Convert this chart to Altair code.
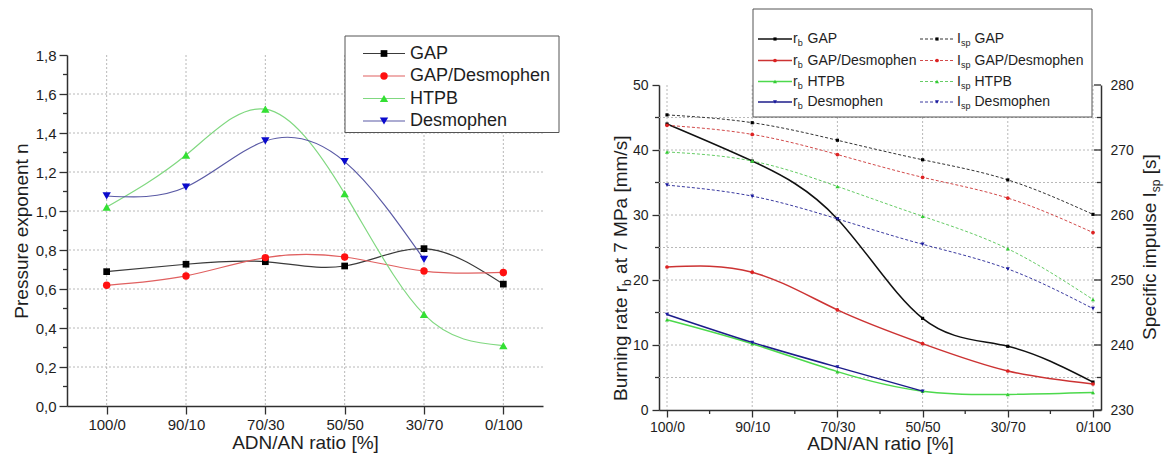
import json
import altair as alt
import pandas as pd

# ---------------- data ----------------
categories = ["100/0", "90/10", "70/30", "50/50", "30/70", "0/100"]
series = ["GAP", "GAP/Desmophen", "HTPB", "Desmophen"]

# left chart: pressure exponent n
n_gap = [0.689, 0.727, 0.740, 0.718, 0.807, 0.625]
n_gap_des = [0.619, 0.667, 0.761, 0.764, 0.692, 0.685]
n_htpb = [1.020, 1.287, 1.522, 1.089, 0.470, 0.310]
n_des = [1.077, 1.123, 1.359, 1.253, 0.752]

# right chart: burning rate at 7 MPa [mm/s]
rb_gap = [44.0, 38.3, 29.4, 14.1, 9.8, 4.3]
rb_gap_des = [22.0, 21.2, 15.4, 10.2, 6.0, 4.0]
rb_htpb = [13.9, 10.2, 5.9, 2.9, 2.4, 2.7]
rb_des = [14.7, 10.4, 6.6, 2.9]

# right chart: specific impulse [s]
isp_gap = [275.4, 274.2, 271.5, 268.5, 265.4, 260.1]
isp_gap_des = [273.8, 272.4, 269.3, 265.8, 262.6, 257.3]
isp_htpb = [269.7, 268.3, 264.4, 259.8, 254.8, 247.0]
isp_des = [264.6, 262.9, 259.4, 255.5, 251.7, 245.6]

n_ticks = [0.0, 0.2, 0.4, 0.6, 0.8, 1.0, 1.2, 1.4, 1.6, 1.8]
rb_ticks = [0, 10, 20, 30, 40, 50]
isp_ticks = [230, 240, 250, 260, 270, 280]

n_data = [n_gap, n_gap_des, n_htpb, n_des]
rb_data = [rb_gap, rb_gap_des, rb_htpb, rb_des]
isp_data = [isp_gap, isp_gap_des, isp_htpb, isp_des]

# ---------------- style ----------------
FONT = "Liberation Sans"
TXT = "#1e1e1e"
AX = "#303030"
GRID = "#b8b8b8"
shapes = ["square", "circle", "triangle-up", "triangle-down"]

l_marker = ["#000000", "#ff1010", "#33e033", "#0a0acc"]
l_line = ["#3a3a3a", "#e06060", "#80d880", "#5a5aa5"]
l_size = [45, 55, 70, 70]

r_marker = ["#000000", "#dd2222", "#33cc33", "#1a1aa0"]
r_line = ["#111111", "#cc3333", "#4cd94c", "#1c1c8a"]
i_line = ["#333333", "#d24a4a", "#66cc66", "#3a3aa0"]
r_size = [10, 14, 16, 16]

idx = list(range(len(categories)))
label_expr = json.dumps(categories) + "[round(datum.value)]"
one = pd.DataFrame({"d": [0]})


def series_df(vals):
    return pd.DataFrame({"i": idx[:len(vals)], "val": vals})


def text_mark(txt, x, y, size, angle=0, baseline="middle"):
    kw = dict(text=txt, fontSize=size, font=FONT, color=TXT, align="left",
              baseline=baseline)
    if angle:
        kw["angle"] = angle
    return alt.Chart(one).mark_text(**kw).encode(x=alt.value(x), y=alt.value(y))


def box(x1, x2, y1, y2):
    return alt.Chart(one).mark_rect(fill="white", stroke="#555555", strokeWidth=1).encode(
        x=alt.value(x1), x2=alt.value(x2), y=alt.value(y1), y2=alt.value(y2))


def seg(x1, x2, y, color, width, dash=None):
    kw = dict(color=color, strokeWidth=width)
    if dash:
        kw["strokeDash"] = dash
    return alt.Chart(one).mark_rule(**kw).encode(
        x=alt.value(x1), x2=alt.value(x2), y=alt.value(y))


def dot(x, y, shape, color, size):
    return alt.Chart(one).mark_point(shape=shape, filled=True, color=color, size=size,
                                     opacity=1).encode(x=alt.value(x), y=alt.value(y))


axis_common = dict(labelFont=FONT, titleFont=FONT, labelColor=TXT, titleColor=TXT,
                   titleFontWeight="normal", domainColor=AX, domainWidth=1.5,
                   tickColor=AX, tickWidth=1.3, grid=False)

# ---------------- left chart ----------------
LW, LH = 476, 351
lx_scale = alt.Scale(domain=[-0.5, 5.5], nice=False, zero=False)
ly_scale = alt.Scale(domain=[0, 1.8], nice=False, zero=False)

lx_axis = alt.Axis(values=idx, labelExpr=label_expr, title="ADN/AN ratio [%]",
                   labelFontSize=15, titleFontSize=19, tickSize=8, labelPadding=3,
                   titlePadding=1, **axis_common)
ly_axis = alt.Axis(values=n_ticks, labelExpr="replace(format(datum.value, '.1f'), '.', ',')",
                   title="Pressure exponent n", labelFontSize=15, titleFontSize=19,
                   tickSize=8, labelPadding=3, titlePadding=4, **axis_common)

LX = lambda f: alt.X(f, scale=lx_scale, axis=lx_axis)
LY = lambda f: alt.Y(f, scale=ly_scale, axis=ly_axis)

left_layers = []
for k in range(4):
    d = series_df(n_data[k])
    left_layers.append(alt.Chart(d).mark_line(
        interpolate="natural", color=l_line[k], strokeWidth=1.2).encode(
        x=LX("i:Q"), y=LY("val:Q")))
left_layers.insert(0, alt.Chart(pd.DataFrame({"i": idx})).mark_rule(
    color=GRID, strokeDash=[2, 2], strokeWidth=1).encode(x=LX("i:Q")))
left_layers.insert(1, alt.Chart(pd.DataFrame({"val": n_ticks[1:-1]})).mark_rule(
    color=GRID, strokeDash=[2, 2], strokeWidth=1).encode(y=LY("val:Q")))
left_layers.append(alt.Chart(pd.DataFrame({"val": [t + 0.1 for t in n_ticks[:-1]]})).mark_rule(
    color=AX, strokeWidth=1.3).encode(y=LY("val:Q"), x=alt.value(-4), x2=alt.value(0)))
for k in range(4):
    d = series_df(n_data[k])
    left_layers.append(alt.Chart(d).mark_point(
        shape=shapes[k], filled=True, color=l_marker[k], size=l_size[k], opacity=1).encode(
        x=LX("i:Q"), y=LY("val:Q")))

# left legend
left_layers.append(box(278, 492, -19, 77.5))
leg_rows = [-1.5, 21.0, 43.5, 66.0]
for k in range(4):
    yy = leg_rows[k]
    left_layers.append(seg(296, 338, yy, l_line[k], 1.2))
    left_layers.append(dot(317, yy, shapes[k], l_marker[k], l_size[k]))
    left_layers.append(text_mark(series[k], 343, yy, 18))

left = alt.layer(*left_layers).properties(width=LW, height=LH)

# ---------------- right chart ----------------
RW, RH = 442, 325
rx_scale = alt.Scale(domain=[-0.094, 5.094], nice=False, zero=False)
rb_scale = alt.Scale(domain=[0, 50], nice=False, zero=False)
isp_scale = alt.Scale(domain=[230, 280], nice=False, zero=False)

rx_axis = alt.Axis(values=idx, labelExpr=label_expr, title="ADN/AN ratio [%]",
                   labelFontSize=14, titleFontSize=19, tickSize=7, labelPadding=3,
                   titlePadding=0, **axis_common)
rb_axis = alt.Axis(values=rb_ticks, title=None, labelFontSize=14, tickSize=7,
                   labelPadding=4, orient="left", **axis_common)
isp_axis = alt.Axis(values=isp_ticks, title=None, labelFontSize=14, ticks=False,
                    labelPadding=9, orient="right", **axis_common)

RX = lambda f: alt.X(f, scale=rx_scale, axis=rx_axis)
RB = lambda f: alt.Y(f, scale=rb_scale, axis=rb_axis)
RI = lambda f: alt.Y(f, scale=isp_scale, axis=isp_axis)

rb_layers = []
for k in range(4):
    d = series_df(rb_data[k])
    rb_layers.append(alt.Chart(d).mark_line(
        interpolate="natural", color=r_line[k], strokeWidth=1.5).encode(
        x=RX("i:Q"), y=RB("val:Q")))
    rb_layers.append(alt.Chart(d).mark_point(
        shape=shapes[k], filled=True, color=r_marker[k], size=r_size[k], opacity=1).encode(
        x=RX("i:Q"), y=RB("val:Q")))
grid_layers = [
    alt.Chart(pd.DataFrame({"i": idx})).mark_rule(
        color=GRID, strokeDash=[2, 2], strokeWidth=1).encode(x=RX("i:Q")),
    alt.Chart(pd.DataFrame({"val": list(range(5, 50, 5))})).mark_rule(
        color=GRID, strokeDash=[2, 2], strokeWidth=1).encode(y=RB("val:Q")),
    alt.Chart(pd.DataFrame({"val": list(range(5, 50, 10))})).mark_rule(
        color=AX, strokeWidth=1.3).encode(y=RB("val:Q"), x=alt.value(-4), x2=alt.value(0)),
    alt.Chart(pd.DataFrame({"i": [k + 0.5 for k in idx[:-1]]})).mark_rule(
        color=AX, strokeWidth=1.3).encode(x=RX("i:Q"), y=alt.value(RH), y2=alt.value(RH + 4)),
]
rb_group = alt.layer(*(grid_layers + rb_layers))

isp_layers = []
for k in range(4):
    d = series_df(isp_data[k])
    isp_layers.append(alt.Chart(d).mark_line(
        interpolate="natural", color=i_line[k], strokeWidth=1, strokeDash=[3, 2]).encode(
        x=RX("i:Q"), y=RI("val:Q")))
    isp_layers.append(alt.Chart(d).mark_point(
        shape=shapes[k], filled=True, color=r_marker[k], size=r_size[k], opacity=1).encode(
        x=RX("i:Q"), y=RI("val:Q")))
isp_layers.append(alt.Chart(pd.DataFrame({"val": isp_ticks})).mark_rule(
    color=AX, strokeWidth=1.3).encode(y=RI("val:Q"), x=alt.value(RW - 7), x2=alt.value(RW)))
isp_layers.append(alt.Chart(pd.DataFrame({"val": [t + 5 for t in isp_ticks[:-1]]})).mark_rule(
    color=AX, strokeWidth=1.3).encode(y=RI("val:Q"), x=alt.value(RW - 4), x2=alt.value(RW)))
isp_group = alt.layer(*isp_layers)

extra = []
# axis titles with subscripts (rotated, reading bottom to top)
BX = -32
extra.append(text_mark("Burning rate r", BX, 316, 19, angle=270, baseline="alphabetic"))
extra.append(text_mark("b", BX + 4, 200.9, 12, angle=270, baseline="alphabetic"))
extra.append(text_mark("at 7 MPa [mm/s]", BX, 188.9, 19, angle=270, baseline="alphabetic"))
SX = 497
extra.append(text_mark("Specific impulse I", SX, 255, 19, angle=270, baseline="alphabetic"))
extra.append(text_mark("sp", SX + 4, 107.2, 12, angle=270, baseline="alphabetic"))
extra.append(text_mark("[s]", SX, 89.2, 19, angle=270, baseline="alphabetic"))

# right legend
extra.append(box(94, 433, -76, 32))
r_rows = [-46, -24.5, -3.5, 17]
for k in range(4):
    yy = r_rows[k]
    extra.append(seg(99, 133, yy, r_line[k], 1.5))
    extra.append(dot(116, yy, shapes[k], r_marker[k], r_size[k]))
    extra.append(text_mark("r", 134, yy, 14))
    extra.append(text_mark("b", 138.8, yy + 4, 9))
    extra.append(text_mark(series[k], 148.5, yy, 14))
    extra.append(seg(261, 294, yy, i_line[k], 1, dash=[3, 2]))
    extra.append(dot(278, yy, shapes[k], r_marker[k], r_size[k]))
    extra.append(text_mark("I", 298, yy, 14))
    extra.append(text_mark("sp", 302, yy + 4, 9))
    extra.append(text_mark(series[k], 315.5, yy, 14))

right = alt.layer(rb_group, isp_group, *extra).resolve_scale(y="independent").properties(
    width=RW, height=RH)

spacer = alt.Chart(one).mark_point(opacity=0).encode(
    x=alt.X("d:Q", axis=None), y=alt.Y("d:Q", axis=None)).properties(width=RW, height=1)

right_col = alt.vconcat(spacer, right, spacing=29).properties(bounds="flush")

chart = alt.hconcat(left, right_col, spacing=116).properties(
    bounds="flush", padding={"left": 11, "top": 8, "right": 2, "bottom": 2}
).configure(font=FONT).configure_view(stroke="transparent")

chart.save("out.html", embed_options={"renderer": "svg", "actions": False})
